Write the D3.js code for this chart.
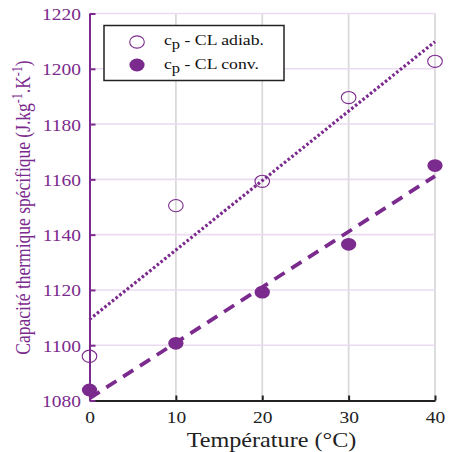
<!DOCTYPE html>
<html>
<head>
<meta charset="utf-8">
<script src="https://cdn.jsdelivr.net/npm/d3@7"></script>
<style>
  html, body { margin: 0; padding: 0; background: #fff; }
</style>
</head>
<body>
<svg id="chart" width="449" height="452" font-family="Liberation Serif, DejaVu Serif, serif"></svg>
<script>
// Temperatures (°C)
const temperatures = [0, 10, 20, 30, 40];
// Specific heat capacity, adiabatic calorimetry (J.kg-1.K-1)
const cpAdiab = [1096, 1150.5, 1159.3, 1189.6, 1202.7];
// Specific heat capacity, conventional calorimetry (J.kg-1.K-1)
const cpConv = [1083.8, 1100.7, 1119.2, 1136.5, 1165];
// Linear trend end values at 0 °C and 40 °C
const trendTemps = [0, 40];
const trendAdiab = [1109.3, 1209.8];
const trendConv = [1080.8, 1161.2];
// Tick labels
const xTicks = [0, 10, 20, 30, 40];
const yTicks = [1080, 1100, 1120, 1140, 1160, 1180, 1200, 1220];

const purple = "#7b2a8d";
const sx = 1.18; // horizontal glyph stretch used for all text
const svg = d3.select("#chart");
const plotL = 89.5, plotR = 435, plotT = 13.5, plotB = 400.5;

const x = d3.scaleLinear().domain([0, 40]).range([plotL, plotR]);
const y = d3.scaleLinear().domain([1080, 1220]).range([plotB, plotT]);

// grid: vertical gray, horizontal light purple
svg.append("g").selectAll("line").data(xTicks.filter(d => d > 0)).join("line")
  .attr("x1", d => x(d)).attr("x2", d => x(d))
  .attr("y1", plotT).attr("y2", plotB)
  .attr("stroke", "#dadada").attr("stroke-width", 1.8);
svg.append("g").selectAll("line").data(yTicks.filter(d => d > 1080)).join("line")
  .attr("x1", plotL).attr("x2", plotR)
  .attr("y1", d => y(d)).attr("y2", d => y(d))
  .attr("stroke", "#eadbef").attr("stroke-width", 1.6);

// trend lines
const line = d3.line().x(d => x(d[0])).y(d => y(d[1]));
svg.append("path")
  .attr("d", line(d3.zip(trendTemps, trendAdiab)))
  .attr("fill", "none").attr("stroke", purple)
  .attr("stroke-width", 3.2).attr("stroke-dasharray", "2.6,2.2");
svg.append("path")
  .attr("d", line(d3.zip(trendTemps, trendConv)))
  .attr("fill", "none").attr("stroke", purple)
  .attr("stroke-width", 3.8).attr("stroke-dasharray", "12,8");

// axes
const xAxis = d3.axisBottom(x).tickValues(xTicks).tickFormat(d3.format("d"))
  .tickSizeInner(-5).tickSizeOuter(0);
const gx = svg.append("g").attr("transform", `translate(0,${plotB})`).call(xAxis)
  .attr("font-family", "Liberation Serif, DejaVu Serif, serif").attr("font-size", 16.5);
gx.select(".domain").attr("stroke", "#222").attr("stroke-width", 2);
gx.selectAll(".tick line").attr("stroke", "#222").attr("stroke-width", 2);
gx.selectAll(".tick text").attr("fill", "#222")
  .attr("y", 23).attr("dy", 0).attr("transform", `scale(${sx},1)`);

const yAxis = d3.axisLeft(y).tickValues(yTicks).tickFormat(d3.format("d"))
  .tickSizeInner(-6).tickSizeOuter(0);
const gy = svg.append("g").attr("transform", `translate(${plotL},0)`).call(yAxis)
  .attr("font-family", "Liberation Serif, DejaVu Serif, serif").attr("font-size", 16.5);
gy.select(".domain").attr("stroke", purple).attr("stroke-width", 2);
gy.selectAll(".tick line").attr("stroke", purple).attr("stroke-width", 2);
gy.selectAll(".tick text").attr("fill", purple)
  .attr("x", -8.5 / sx).attr("dy", "0.36em").attr("transform", `scale(${sx},1)`);

// markers
svg.append("g").selectAll("ellipse").data(temperatures).join("ellipse")
  .attr("cx", (d) => x(d)).attr("cy", (d, i) => y(cpAdiab[i]))
  .attr("rx", 7.3).attr("ry", 6.1)
  .attr("fill", "none").attr("stroke", purple).attr("stroke-width", 1.1);
svg.append("g").selectAll("ellipse").data(temperatures).join("ellipse")
  .attr("cx", (d) => x(d)).attr("cy", (d, i) => y(cpConv[i]))
  .attr("rx", 7.6).attr("ry", 6.4)
  .attr("fill", purple);

// legend
const lg = svg.append("g");
lg.append("rect").attr("x", 104).attr("y", 25.5).attr("width", 180).attr("height", 55)
  .attr("fill", "#fff").attr("stroke", "#222").attr("stroke-width", 1.5);
lg.append("ellipse").attr("cx", 137).attr("cy", 42).attr("rx", 7.3).attr("ry", 6.1)
  .attr("fill", "none").attr("stroke", purple).attr("stroke-width", 1.1);
lg.append("ellipse").attr("cx", 137).attr("cy", 65).attr("rx", 7.6).attr("ry", 6.4)
  .attr("fill", purple);
const legendLabels = ["CL adiab.", "CL conv."];
legendLabels.forEach((lab, i) => {
  const t = lg.append("text")
    .attr("transform", `translate(164,${45 + i * 23.5}) scale(${sx},1)`)
    .attr("fill", "#111").attr("font-size", 15);
  t.append("tspan").text("c");
  t.append("tspan").attr("dy", 4).attr("font-size", 14).text("p");
  t.append("tspan").attr("dy", -4).text(" - " + lab);
});

// axis titles
svg.append("text")
  .attr("transform", `translate(271.5,447) scale(${sx},1)`)
  .attr("text-anchor", "middle").attr("fill", "#222").attr("font-size", 20.5)
  .text("Température (°C)");

const yl = svg.append("text")
  .attr("transform", `translate(30,207.5) rotate(-90) scale(1,${sx})`)
  .attr("text-anchor", "middle").attr("fill", purple).attr("font-size", 17.5);
yl.append("tspan").text("Capacité thermique spécifique (J.kg");
yl.append("tspan").attr("dy", -7).attr("font-size", 12).text("-1");
yl.append("tspan").attr("dy", 7).text(".K");
yl.append("tspan").attr("dy", -7).attr("font-size", 12).text("-1");
yl.append("tspan").attr("dy", 7).text(")");
</script>
</body>
</html>
